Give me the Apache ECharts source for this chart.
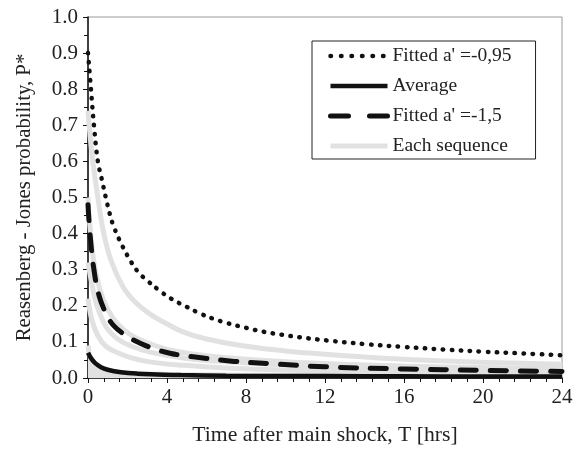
<!DOCTYPE html>
<html><head><meta charset="utf-8">
<script src="https://cdn.jsdelivr.net/npm/echarts@6/dist/echarts.min.js"></script>
<style>html,body{margin:0;padding:0;background:#fff}#c{width:577px;height:451px}</style>
</head><body><div id="c"></div>
<script>
// Fitted a' = -0,95 (dotted)
var tDotted = [0,0.15,0.3,0.5,0.7,0.9,1.1,1.3,1.7,2.2,2.6,3.0,3.6,4.2,5,5.7,6.3,7.0,8,8.9,9.8,10.7,12.1,14,16,18,20,22,24];
var pDotted = [0.90,0.80,0.70,0.60,0.55,0.50,0.455,0.42,0.37,0.32,0.29,0.27,0.243,0.22,0.197,0.178,0.165,0.153,0.139,0.128,0.12,0.113,0.104,0.094,0.086,0.079,0.073,0.068,0.063];
// Average (solid)
var tAvg = [0,0.15,0.35,0.66,1.0,1.67,2.5,3.5,4.7,7,10,14,18,24];
var pAvg = [0.070,0.055,0.042,0.030,0.023,0.016,0.012,0.010,0.008,0.0065,0.0055,0.005,0.0045,0.004];
// Fitted a' = -1,5 (dashed)
var tDash = [0,0.1,0.3,0.55,0.9,1.3,2.0,2.7,3.4,4.2,5.0,5.9,7.4,9.1,12,16,20,24];
var pDash = [0.48,0.40,0.30,0.23,0.18,0.145,0.115,0.095,0.08,0.068,0.061,0.055,0.046,0.040,0.031,0.025,0.021,0.018];
// Each sequence (grey)
var tSeq1 = [0,0.2,0.5,0.8,1.2,1.8,2.4,3.2,4.0,4.8,6,8,10,12,15,18,21,24];
var pSeq1 = [0.74,0.62,0.50,0.40,0.32,0.25,0.21,0.175,0.15,0.128,0.108,0.088,0.075,0.066,0.055,0.047,0.042,0.038];
var tSeq2 = [0,0.1,0.3,0.6,1.0,1.5,2.2,3,4.2,6,8,10,13,16,20,24];
var pSeq2 = [0.50,0.42,0.32,0.245,0.19,0.15,0.118,0.098,0.077,0.062,0.052,0.045,0.038,0.033,0.029,0.026];
var tSeq3 = [0,0.2,0.4,0.7,1.0,1.5,2.2,3.2,4.9,7,10,14,18,24];
var pSeq3 = [0.32,0.26,0.21,0.165,0.135,0.108,0.088,0.071,0.055,0.045,0.036,0.029,0.025,0.021];
var tSeq4 = [0,0.2,0.5,0.9,1.5,2.2,3.2,4.9,7,10,14,18,24];
var pSeq4 = [0.22,0.16,0.117,0.088,0.07,0.056,0.044,0.035,0.028,0.022,0.018,0.015,0.013];
var tSeq5 = [0,0.1,0.3,0.6,1,1.5,2.5,4,7,12,24];
var pSeq5 = [0.09,0.06,0.04,0.028,0.02,0.016,0.012,0.01,0.008,0.007,0.006];

var xName = 'Time after main shock, T [hrs]';
var yName = 'Reasenberg - Jones probability, P*';
var legendNames = ["Fitted a' =-0,95", 'Average', "Fitted a' =-1,5", 'Each sequence'];

function pairs(t, p){ return t.map(function(v,i){return [v,p[i]];}); }
var FONT = 'Liberation Serif';
var GREY = '#e1e1e1';
var SM = 0.4;

function greySeries(t, p, area){
  var s = {name: legendNames[3], type:'line', data: pairs(t,p), symbol:'none', smooth:SM,
    lineStyle:{color:GREY, width:5}, itemStyle:{color:GREY}, z:1};
  if(area){ s.areaStyle = {color:GREY, opacity:1}; }
  return s;
}

var chart = echarts.init(document.getElementById('c'), null, {renderer:'canvas'});
chart.setOption({
  animation:false,
  backgroundColor:'#fff',
  grid:{left:88, right:15, top:17, bottom:68, show:true, borderColor:'#9a9a9a', borderWidth:1},
  legend:{
    data: [
      {name:legendNames[0], lineStyle:{type:[0.5,10]}},
      {name:legendNames[1]},
      {name:legendNames[2], lineStyle:{type:[18,21]}},
      {name:legendNames[3]}
    ],
    orient:'vertical', left:312, top:41,
    itemWidth:57, itemHeight:14, itemGap:10,
    padding:[5,24,3,16], borderColor:'#222', borderWidth:1, backgroundColor:'#fff',
    itemStyle:{opacity:0},
    lineStyle:{width:'inherit'},
    textStyle:{fontFamily:FONT, fontSize:19.5, color:'#222'}
  },
  xAxis:{type:'value', min:0, max:24, interval:4,
    name:xName, nameLocation:'middle', nameGap:46,
    nameTextStyle:{fontFamily:FONT, fontSize:21.7, color:'#222'},
    axisLine:{show:true, onZero:false, lineStyle:{color:'#111', width:1.5}},
    axisTick:{show:true, inside:false, length:5, lineStyle:{color:'#111'}},
    minorTick:{show:true, splitNumber:5, length:4, lineStyle:{color:'#111'}},
    splitLine:{show:false},
    axisLabel:{fontFamily:FONT, fontSize:21, color:'#222', margin:9}
  },
  yAxis:{type:'value', min:0, max:1, interval:0.1,
    name:yName, nameLocation:'middle', nameGap:53,
    nameTextStyle:{fontFamily:FONT, fontSize:20.8, color:'#222'},
    axisLine:{show:true, onZero:false, lineStyle:{color:'#111', width:1.5}},
    axisTick:{show:true, inside:false, length:5, lineStyle:{color:'#111'}},
    minorTick:{show:true, splitNumber:2, length:4, lineStyle:{color:'#111'}},
    splitLine:{show:false},
    axisLabel:{fontFamily:FONT, fontSize:21, color:'#222', margin:10, formatter:function(v){return v.toFixed(1);}}
  },
  series:[
    greySeries(tSeq5,pSeq5,true),
    greySeries(tSeq1,pSeq1),
    greySeries(tSeq2,pSeq2),
    greySeries(tSeq3,pSeq3),
    greySeries(tSeq4,pSeq4),
    {name:legendNames[0], type:'line', data:pairs(tDotted,pDotted), symbol:'none', smooth:SM, z:3,
      lineStyle:{color:'#111', width:4.5, type:[0.5,8.5], cap:'round'}, itemStyle:{color:'#111'}},
    {name:legendNames[1], type:'line', data:pairs(tAvg,pAvg), symbol:'none', smooth:SM, z:3,
      lineStyle:{color:'#111', width:4.5}, itemStyle:{color:'#111'}},
    {name:legendNames[2], type:'line', data:pairs(tDash,pDash), symbol:'none', smooth:SM, z:3,
      lineStyle:{color:'#111', width:5, type:[16,14], cap:'round'}, itemStyle:{color:'#111'}}
  ]
});
</script>
</body></html>
